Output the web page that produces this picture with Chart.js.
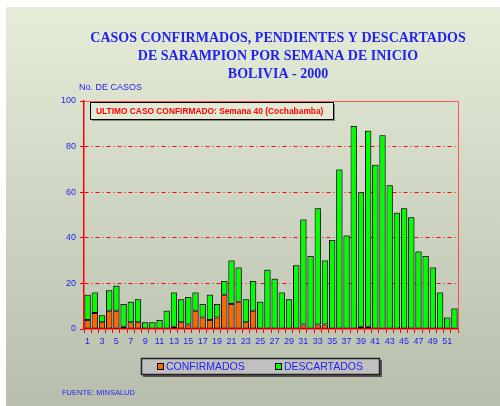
<!DOCTYPE html>
<html>
<head>
<meta charset="utf-8">
<script src="https://cdn.jsdelivr.net/npm/chart.js@4"></script>
<style>
  html, body { margin: 0; padding: 0; background: #fff; }
  #wrap { width: 500px; height: 406px; }
</style>
</head>
<body>
<div id="wrap"><canvas id="chart" width="500" height="406"></canvas></div>
<script>
// Sarampion Bolivia 2000 — cases by onset week

const weeks = Array.from({ length: 52 }, (_, i) => String(i + 1));

const confirmados = [4,7,3,8,8,1,3,3,0,0,0,0,1,3,2,8,5,4,5,15,11,12,3,8,0,0,
                     0,0,0,0,2,0,2,2,0,0,0,0,1,1,0,0,0,0,0,0,0,0,0,0,0,0];

const descartados = [11,9,3,9,11,10,9,10,3,3,4,8,15,10,12,8,6,11,6,6,19,15,10,13,12,26,
                     22,16,13,28,46,32,51,28,39,70,41,89,59,86,72,85,63,51,53,49,34,32,27,16,5,9];

const yTicks = [0, 20, 40, 60, 80, 100];

const titleLines = [
  'CASOS CONFIRMADOS, PENDIENTES Y DESCARTADOS',
  'DE SARAMPION POR SEMANA DE INICIO',
  'BOLIVIA - 2000',
];

const BLUE  = '#2222ee';
const RED   = '#ff0000';

// background panel, titles, note box, legend, source
const decor = {
  id: 'decor',
  beforeDraw(chart) {
    const { ctx } = chart;
    ctx.save();
    const g = ctx.createLinearGradient(0, 7, 0, 406);
    g.addColorStop(0, '#e5edd9');
    g.addColorStop(1, '#b7beac');
    ctx.fillStyle = g;
    ctx.fillRect(6, 7, 494, 399);
    ctx.restore();
  },
  beforeDatasetsDraw(chart) {
    const { ctx } = chart;
    ctx.save();
    ctx.shadowColor = 'rgba(60,60,60,0.55)';
    ctx.shadowOffsetX = 1;
    ctx.shadowOffsetY = -1;
  },
  afterDatasetsDraw(chart) {
    const { ctx, chartArea: a } = chart;
    ctx.restore();
    ctx.save();
    // plot frame
    ctx.strokeStyle = 'rgba(255,40,40,0.75)';
    ctx.lineWidth = 1;
    ctx.beginPath();
    ctx.moveTo(a.left, a.top + 0.5);
    ctx.lineTo(a.right + 0.5, a.top + 0.5);
    ctx.lineTo(a.right + 0.5, a.bottom);
    ctx.stroke();
    ctx.restore();
  },
  afterDraw(chart) {
    const { ctx } = chart;
    ctx.save();

    // title
    ctx.fillStyle = BLUE;
    ctx.textAlign = 'center';
    ctx.textBaseline = 'middle';
    ctx.font = 'bold 14px "Liberation Serif"';
    titleLines.forEach((t, i) => ctx.fillText(t, 278, 38 + i * 18));

    // y axis caption
    ctx.textAlign = 'left';
    ctx.font = '9px "Liberation Sans"';
    ctx.fillText('No. DE CASOS', 79, 88);

    // note box
    ctx.fillStyle = 'rgba(80,80,80,0.6)';
    ctx.fillRect(92, 104, 243, 17);
    ctx.fillStyle = '#e2e9d5';
    ctx.fillRect(90, 102, 243, 17);
    ctx.strokeStyle = '#000';
    ctx.lineWidth = 1;
    ctx.strokeRect(90.5, 102.5, 243, 17);
    ctx.fillStyle = RED;
    ctx.font = 'bold 8.4px "Liberation Sans"';
    ctx.fillText('ULTIMO CASO CONFIRMADO: Semana 40 (Cochabamba)', 96, 111.5);

    // legend
    ctx.fillStyle = '#555';
    ctx.fillRect(143, 360, 239, 17);
    ctx.fillStyle = '#c0c0c0';
    ctx.fillRect(141, 358, 239, 17);
    ctx.strokeStyle = '#222';
    ctx.lineWidth = 1.5;
    ctx.strokeRect(141.5, 358.5, 238, 16);
    const items = [
      { ds: chart.data.datasets[0], x: 157 },
      { ds: chart.data.datasets[1], x: 275 },
    ];
    ctx.font = '10.5px "Liberation Sans"';
    items.forEach(({ ds, x }) => {
      ctx.fillStyle = ds.backgroundColor;
      ctx.fillRect(x, 363, 7, 7);
      ctx.strokeStyle = '#000';
      ctx.lineWidth = 1;
      ctx.strokeRect(x + 0.5, 363.5, 6, 6);
      ctx.fillStyle = BLUE;
      ctx.fillText(ds.label, x + 9, 367);
    });

    // source
    ctx.font = '7.5px "Liberation Sans"';
    ctx.fillText('FUENTE: MINSALUD', 62, 393);

    ctx.restore();
  },
};

new Chart(document.getElementById('chart'), {
  type: 'bar',
  data: {
    labels: weeks,
    datasets: [
      {
        label: 'CONFIRMADOS',
        data: confirmados.map(v => v || null),
        backgroundColor: '#ff6600',
        borderColor: '#000',
        borderWidth: 1,
        borderSkipped: false,
        barPercentage: 0.88,
        categoryPercentage: 1,
      },
      {
        label: 'DESCARTADOS',
        data: descartados.map(v => v || null),
        backgroundColor: '#00ff00',
        borderColor: '#000',
        borderWidth: 1,
        borderSkipped: false,
        barPercentage: 0.88,
        categoryPercentage: 1,
      },
    ],
  },
  options: {
    responsive: false,
    animation: false,
    events: [],
    layout: { padding: { left: 60, right: 42, top: 101, bottom: 57 } },
    plugins: {
      legend: { display: false },
      title: { display: false },
      tooltip: { enabled: false },
    },
    scales: {
      x: {
        stacked: true,
        afterFit: s => { s.height = 20; },
        grid: {
          offset: true,
          color: 'rgba(0,0,0,0)',
          tickColor: RED,
          tickLength: 4,
        },
        border: { color: RED, width: 1.5 },
        ticks: {
          color: BLUE,
          font: { family: 'Liberation Sans', size: 9 },
          padding: 3,
          autoSkip: false,
          maxRotation: 0,
          callback: (v, i) => (i % 2 === 0 ? weeks[i] : ''),
        },
      },
      y: {
        stacked: true,
        min: 0,
        max: 100,
        afterFit: s => { s.width = 24; },
        afterBuildTicks: s => { s.ticks = yTicks.map(v => ({ value: v })); },
        grid: {
          color: c => (c.tick.value > 0 && c.tick.value < 100 ? RED : 'rgba(0,0,0,0)'),
          tickColor: RED,
          tickLength: 4,
          tickBorderDash: [],
          lineWidth: 1,
        },
        border: { color: RED, width: 1.5, dash: [4, 3, 1, 3] },
        ticks: {
          color: BLUE,
          font: { family: 'Liberation Sans', size: 9 },
          padding: 4,
        },
      },
    },
  },
  plugins: [decor],
});
</script>
</body>
</html>
